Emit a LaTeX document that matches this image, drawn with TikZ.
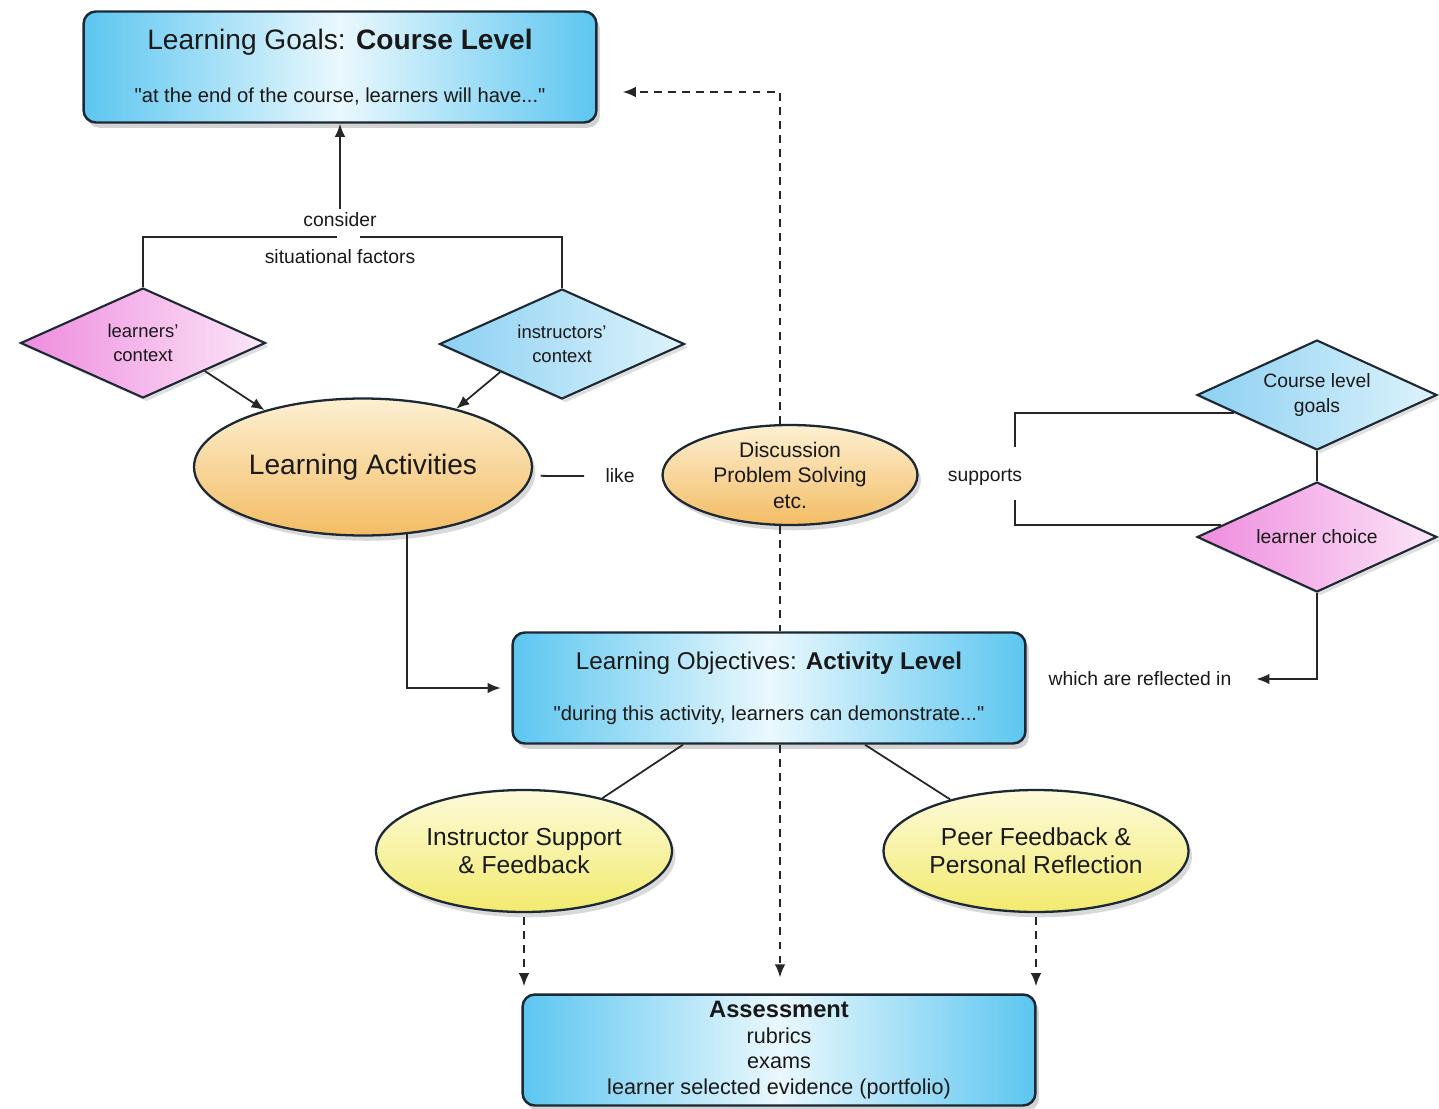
\documentclass[tikz,border=0pt]{standalone}
\usepackage{fontspec}
\setmainfont{Liberation Sans}
\usepackage{xcolor}
\usetikzlibrary{shapes.geometric,shadows,calc,positioning,arrows.meta}
\definecolor{boxblue}{RGB}{92,198,240}
\definecolor{boxlight}{RGB}{234,248,253}
\definecolor{edgedark}{RGB}{28,40,52}
\definecolor{orangedark}{RGB}{243,188,100}
\definecolor{orangelight}{RGB}{253,240,210}
\definecolor{yellowdark}{RGB}{242,234,110}
\definecolor{yellowlight}{RGB}{253,251,218}
\definecolor{pinkdark}{RGB}{238,140,222}
\definecolor{pinklight}{RGB}{252,230,248}
\definecolor{skydark}{RGB}{140,208,242}
\definecolor{skylight}{RGB}{222,243,252}
\newcommand{\fsz}[2]{\fontsize{#1}{#2}\selectfont}

\tikzset{
  levelbox/.style={draw=edgedark, line width=1.4pt, rounded corners=7pt,
    left color=boxblue, right color=boxblue, middle color=boxlight,
    minimum width=10.26cm, minimum height=2.22cm, align=center, inner sep=2pt,
    text=black!90, drop shadow={opacity=.35, shadow xshift=2pt, shadow yshift=-3pt}},
  blob/.style={ellipse, draw=edgedark, line width=1.3pt, inner sep=0pt,
    align=center, text=black!90,
    drop shadow={opacity=.3, shadow xshift=2pt, shadow yshift=-3pt}},
  activity/.style={blob, top color=orangelight, bottom color=orangedark},
  feedback/.style={blob, top color=yellowlight, bottom color=yellowdark},
  factor/.style={diamond, aspect=2.25, draw=edgedark, line width=1.2pt, inner sep=0pt,
    align=center, text=black!90, minimum width=4.9cm, minimum height=2.2cm,
    font=\fsz{10.5}{14},
    drop shadow={opacity=.25, shadow xshift=2pt, shadow yshift=-2pt}},
  pinkfactor/.style={factor, left color=pinkdark, right color=pinklight},
  skyfactor/.style={factor, left color=skydark, right color=skylight},
  lbl/.style={font=\fsz{11}{13}, text=black!90, inner sep=2pt},
  link/.style={draw=black!85, line width=1pt},
  arr/.style={link, -{Latex[length=7.5pt,width=6pt]}},
  dashlink/.style={link, dash pattern=on 4.5pt off 3.5pt},
  dasharr/.style={dashlink, -{Latex[length=7.5pt,width=6pt]}}
}

\begin{document}
\begin{tikzpicture}[x=0.02cm, y=-0.02cm]
  \useasboundingbox (0,0) rectangle (1439,1108);

  % Level boxes
  \node[levelbox, font=\fsz{16}{19}] (goals) at (340,67)
    {Learning Goals: \textbf{Course Level}\\[11pt]{\fsz{11.5}{12}\textquotedbl at the end of the course, learners will have...\textquotedbl}};
  \node[levelbox, font=\fsz{13.8}{16}] (obj) at (769,688)
    {Learning Objectives: \textbf{Activity Level}\\[13pt]{\fsz{11.5}{12}\textquotedbl during this activity, learners can demonstrate...\textquotedbl}};
  \node[levelbox, font=\fsz{12.3}{14.5}] (assess) at (779,1050)
    {{\fsz{13.5}{14.5}\textbf{Assessment}}\\rubrics\\exams\\learner selected evidence (portfolio)};

  % Situational factors
  \node[pinkfactor] (learners) at (143,343) {learners'\\context};
  \node[skyfactor] (instructors) at (562,344) {instructors'\\context};
  \node[lbl] (consider) at (340,220) {consider};
  \node[lbl] (sitfac) at (340,257) {situational factors};
  \coordinate (gapL) at (337,237);
  \coordinate (gapR) at (360,237);
  \draw[link] (learners.north) |- (gapL);
  \draw[link] (instructors.north) |- (gapR);
  \draw[arr] (consider.north) -- (goals.south);

  % Activities
  \node[activity, minimum width=6.76cm, minimum height=2.74cm, font=\fsz{16}{18}] (la) at (363,467) {Learning Activities};
  \node[activity, minimum width=5.1cm, minimum height=2cm, font=\fsz{12}{14.5}] (disc) at (790,475) {Discussion\\Problem Solving\\etc.};
  \node[lbl] (like) at (620,476) {like};
  \draw[arr] (learners.south east) -- (la.150);
  \draw[arr] (instructors.south west) -- (la.32);
  \draw[link, shorten <=5pt, shorten >=10pt] (la.-3) -- (like.west);

  % Dashed spine
  \coordinate (bend) at (780,92);
  \draw[dasharr] (disc.north -| bend) -- (bend) -- ($(goals.east |- bend)+(25,0)$);
  \draw[dashlink] (disc.south -| bend) -- (obj.north -| bend);
  \draw[dasharr, shorten >=9pt] (obj.south -| bend) -- (assess.north -| bend);

  % Right side: choice
  \node[skyfactor, minimum width=4.8cm, aspect=2.18, font=\fsz{11}{14}] (cg) at (1317,395) {Course level\\goals};
  \node[pinkfactor, minimum width=4.8cm, aspect=2.18, font=\fsz{11}{14}] (lc) at (1317,537) {learner choice};
  \node[lbl] (supports) at (985,477) {supports};
  \node[lbl] (refl) at (1140,679) {which are reflected in};
  \coordinate (supT) at (1015,447);
  \coordinate (supB) at (1015,500);
  \draw[link] (cg.192) -| (supT);
  \draw[link] (lc.173) -| (supB);
  \draw[link] (cg.south) -- (lc.north);
  \draw[arr, shorten >=12pt] (lc.south) |- (refl.east);

  % Objectives and feedback
  \draw[arr, shorten >=6pt] (la.-57) |- (obj.west);
  \node[feedback, minimum width=5.92cm, minimum height=2.44cm, font=\fsz{14}{16}] (is) at (524,851) {Instructor Support\\\& Feedback};
  \node[feedback, minimum width=6.1cm, minimum height=2.44cm, font=\fsz{14}{16}] (pf) at (1036,851) {Peer Feedback \&\\Personal Reflection};
  \draw[link] ($(obj.south)+(-86,0)$) -- (is.34);
  \draw[link] ($(obj.south)+(96,0)$) -- (pf.149);
  \foreach \e in {is,pf}
    \draw[dasharr, shorten <=2pt, shorten >=4pt] (\e.south) -- (\e.south |- assess.north);
\end{tikzpicture}
\end{document}
